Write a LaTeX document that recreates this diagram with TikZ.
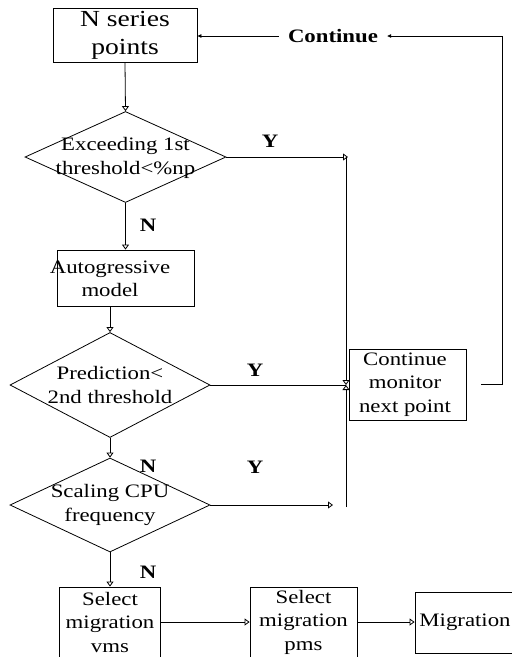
\documentclass[tikz,border=0pt]{standalone}
\usepackage{fontspec}
\setmainfont{Liberation Serif}[FakeStretch=1.2]
\usetikzlibrary{shapes.geometric,arrows.meta}
\begin{document}
\begin{tikzpicture}[x=1pt,y=-1pt,
  box/.style={draw, line width=0.8pt, inner sep=0pt},
  dia/.style={draw, diamond, inner sep=0pt, line width=0.8pt},
  txt/.style={align=center, font=\fontsize{19}{23.5}\selectfont, inner sep=0pt},
  lab/.style={font=\fontsize{19}{23}\selectfont\bfseries, inner sep=0pt},
  con/.style={line width=0.8pt},
  oa/.style={con, -{Triangle[open,length=5pt,width=7pt]}},
  fa/.style={con, -{Triangle[length=4pt,width=3.5pt]}}]
\clip (0,0) rectangle (512,657);
% nodes
\node[box, minimum width=144pt, minimum height=54pt] (n1) at (125,35) {};
\node[txt, font=\fontsize{23}{28}\selectfont] (n1t) at (125,35) {N series\\points};
\node[lab, inner xsep=9pt, inner ysep=3pt] (cont) at (333,36) {Continue};
\node[dia, minimum width=201pt, minimum height=91pt] (d1) at (125.5,157) {};
\node[txt] (d1t) at (125.5,158) {Exceeding 1st\\threshold<\%np};
\node[box, minimum width=137pt, minimum height=56pt] (ar) at (125.5,278) {};
\node[txt] (art) at (110,279) {Autogressive\\model};
\node[dia, minimum width=200pt, minimum height=105pt] (d2) at (110,385) {};
\node[txt] (d2t) at (110,385) {Prediction<\\2nd threshold};
\node[dia, minimum width=200pt, minimum height=94pt] (d3) at (110,505) {};
\node[txt] (d3t) at (110,505) {Scaling CPU\\frequency};
\node[box, minimum width=117pt, minimum height=71pt] (mon) at (407.5,384.5) {};
\node[txt] (mont) at (405,384.5) {Continue\\monitor\\next point};
\node[box, minimum width=101pt, minimum height=100pt] (vms) at (110,637) {};
\node[txt] (vmst) at (110,622) {Select\\migration\\vms};
\node[box, minimum width=107pt, minimum height=100pt] (pms) at (303.5,637) {};
\node[txt] (pmst) at (303.5,622) {Select\\migration\\pms};
\node[box, minimum width=120pt, minimum height=61pt] (mig) at (475,622.5) {};
\node[txt] (migt) at (465,622) {Migration};
% labels
\node[lab] (y1) at (270,141) {Y};
\node[lab] (y2) at (255,370) {Y};
\node[lab] (y3) at (255,467) {Y};
\node[lab] (l1) at (148,225) {N};
\node[lab] (l2) at (148,466) {N};
\node[lab] (l3) at (148,572) {N};
% helper coordinates
\coordinate (vx) at (346,0);
\coordinate (rx) at (502,0);
% main flow
\draw[oa] (n1.south) -- (d1.north);
\draw[oa] (d1.south) -- (ar.north);
\draw[oa] (ar.south -| d2.north) -- (d2.north);
\draw[oa] (d2.south) -- (d3.north);
\draw[oa] (d3.south) -- (vms.north);
\draw[oa] (vms.east |- vmst) -- (pms.west |- vmst);
\draw[oa] (pms.east |- vmst) -- (mig.west |- vmst);
% Y branches
\draw[oa] (d1.east) -- ([xshift=2pt]d1.east -| vx);
\draw[oa] (d1.east -| vx) -- (d2.east -| vx);
\draw[con] (d2.east) -- (d2.east -| vx);
\draw[oa] ([yshift=-2pt]d3.east -| vx) -- (d2.east -| vx);
\draw[oa] (d3.east) -- ([xshift=-13pt]d3.east -| vx);
% loop back
\draw[fa] ([xshift=15pt]mon.east) -- (rx |- mon.east) -- (rx |- cont) -- (cont.east);
\draw[fa] (cont.west) -- (n1.east |- cont);
\end{tikzpicture}
\end{document}
